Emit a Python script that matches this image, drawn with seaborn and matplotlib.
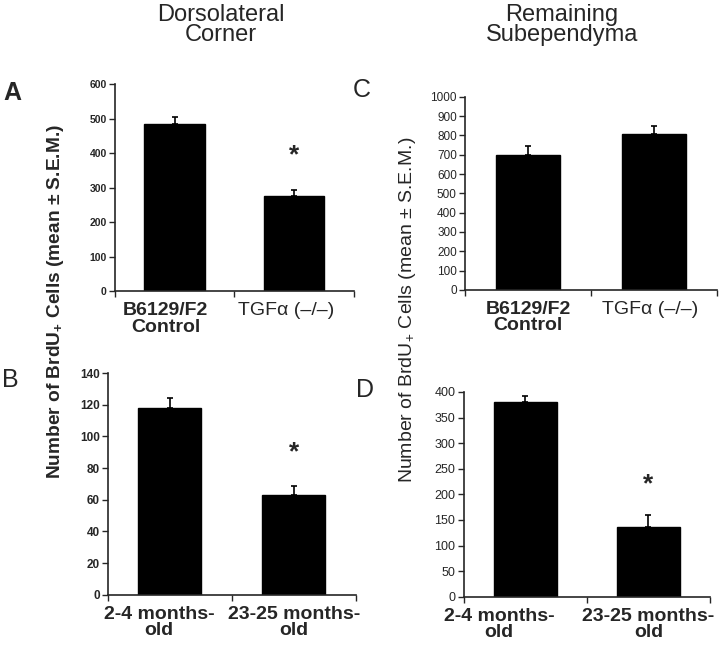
import matplotlib
matplotlib.use("Agg")
import matplotlib.pyplot as plt
import matplotlib.transforms as mtrans
import seaborn as sns
import pandas as pd

# panel A / C: genotype comparison
geno_labels = ["B6129/F2\nControl", "TGF\u03b1 (\u2013/\u2013)"]
dl_geno_mean = [485, 275]
dl_geno_sem = [20, 20]
rs_geno_mean = [700, 808]
rs_geno_sem = [45, 43]

# panel B / D: age comparison
age_labels = ["2-4 months-\nold", "23-25 months-\nold"]
dl_age_mean = [118, 63]
dl_age_sem = [6.5, 5.5]
rs_age_mean = [380, 137]
rs_age_sem = [13, 22]

ylabel = "Number of BrdU$_{+}$ Cells (mean \u00b1 S.E.M.)"

sns.set_style("ticks")
plt.rcParams["font.family"] = ["Liberation Sans", "DejaVu Sans"]
plt.rcParams["mathtext.default"] = "regular"

fig = plt.figure(figsize=(7.2, 6.5), dpi=100)


def bar_panel(rect, labels, means, sems, yticks, star=None, bold=True,
              tick_fs=8.5, shifts=(0, 0)):
    ax = fig.add_axes(rect)
    df = pd.DataFrame({"group": labels, "value": means})
    sns.barplot(data=df, x="group", y="value", color="black", width=0.51,
                saturation=1, errorbar=None, ax=ax, edgecolor="black")
    ax.errorbar(range(len(means)), means, yerr=[[0] * len(sems), sems],
                fmt="none", ecolor="black", elinewidth=1.2, capsize=2.5,
                capthick=1.2)
    ax.set_xlim(-0.5, len(means) - 0.5)
    ax.set_ylim(yticks[0], yticks[-1])
    ax.set_yticks(yticks)
    ax.set_xlabel("")
    ax.set_ylabel("")
    sns.despine(ax=ax)
    for s in ax.spines.values():
        s.set_linewidth(1.2)
    w = "bold" if bold else "normal"
    ax.tick_params(axis="y", length=4, width=1, labelsize=tick_fs, pad=2)
    for t in ax.get_yticklabels():
        t.set_fontweight(w)
    ax.set_xticks([-0.5, 0.5, 1.5], minor=True)
    ax.tick_params(axis="x", which="major", length=0, labelsize=14, pad=8)
    ax.tick_params(axis="x", which="minor", length=4, width=1)
    ax.set_xticklabels(labels, fontweight="bold", linespacing=0.95)
    # the original labels sit a little off-centre
    for t, dx in zip(ax.get_xticklabels(), shifts):
        t.set_transform(t.get_transform() +
                        mtrans.ScaledTranslation(dx / 100, 0,
                                                 fig.dpi_scale_trans))
    if star is not None:
        ax.text(1, star, "*", ha="center", va="center", fontsize=19,
                fontweight="bold")
    return ax


axA = bar_panel([0.160, 0.552, 0.331, 0.318], geno_labels, dl_geno_mean,
                dl_geno_sem, list(range(0, 601, 100)), star=395, tick_fs=7.5,
                shifts=(-9, -8))
axA.get_xticklabels()[1].set_fontweight("normal")

axC = bar_panel([0.646, 0.554, 0.350, 0.297], geno_labels, rs_geno_mean,
                rs_geno_sem, list(range(0, 1001, 100)), bold=False,
                shifts=(0, -4))
axC.get_xticklabels()[1].set_fontweight("normal")

axB = bar_panel([0.150, 0.085, 0.344, 0.341], age_labels, dl_age_mean,
                dl_age_sem, list(range(0, 141, 20)), star=90,
                shifts=(-11, 0))

axD = bar_panel([0.644, 0.082, 0.342, 0.315], age_labels, rs_age_mean,
                rs_age_sem, list(range(0, 401, 50)), star=220, bold=False,
                tick_fs=9, shifts=(-26, 0))

# column titles
fig.text(221 / 720, 1 - 25 / 650, "Dorsolateral\nCorner", ha="center",
         va="center", fontsize=17, linespacing=0.92)
fig.text(562 / 720, 1 - 25 / 650, "Remaining\nSubependyma", ha="center",
         va="center", fontsize=17, linespacing=0.92)

# panel letters
fig.text(12 / 720, 1 - 93 / 650, "A", ha="center", va="center",
         fontsize=18, fontweight="bold")
fig.text(10 / 720, 1 - 380 / 650, "B", ha="center", va="center",
         fontsize=18)
fig.text(362 / 720, 1 - 90 / 650, "C", ha="center", va="center",
         fontsize=18)
fig.text(365 / 720, 1 - 390 / 650, "D", ha="center", va="center",
         fontsize=18)

# shared y labels
fig.text(55 / 720, 1 - 302 / 650, ylabel, rotation=90, ha="center",
         va="center", fontsize=13.8, fontweight="bold")
fig.text(408 / 720, 1 - 310 / 650, ylabel, rotation=90, ha="center",
         va="center", fontsize=14)

fig.savefig("out.png", dpi=100)
